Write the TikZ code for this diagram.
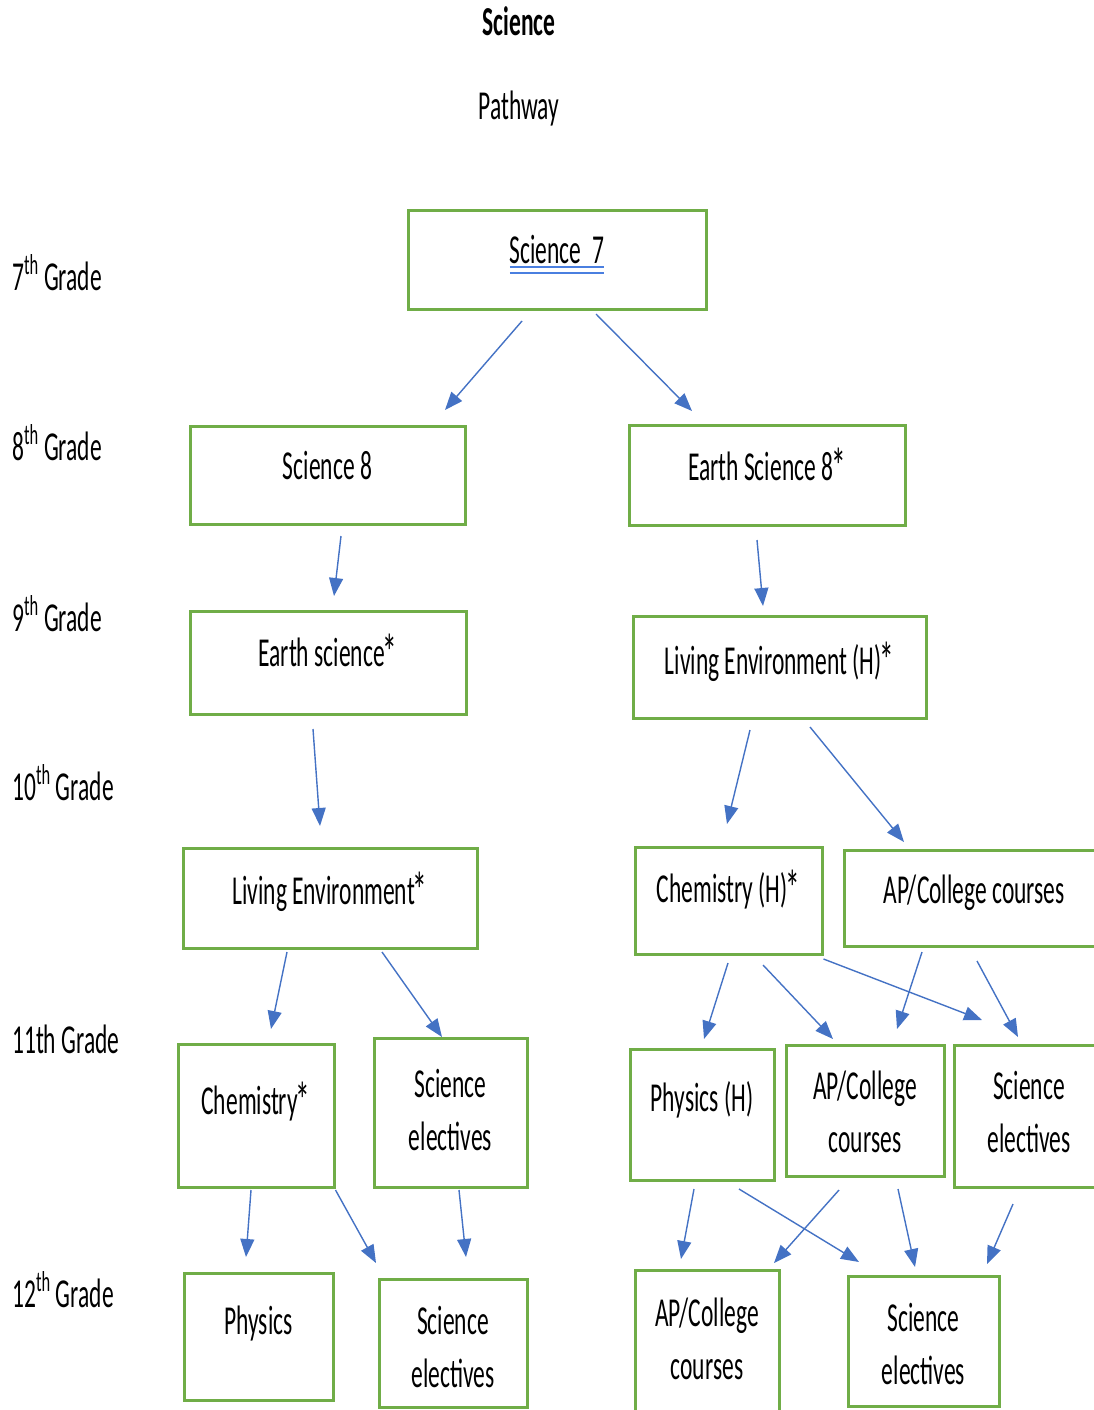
\documentclass[tikz,border=0pt]{standalone}
\usepackage{fontspec}
\setmainfont{Carlito}
\usepackage{graphicx}
\usetikzlibrary{calc,arrows.meta,positioning}
\definecolor{boxgreen}{HTML}{70AD47}
\definecolor{arrowblue}{HTML}{4472C4}
\definecolor{ulblue}{HTML}{4A7FE0}
\newcommand{\stretched}[1]{\scalebox{1}[1.75]{\begin{tabular}[t]{@{}c@{}}#1\end{tabular}}}
\newcommand{\req}{\kern-2pt\raisebox{-2.2pt}{\scalebox{1.25}{*}}}
\newsavebox{\ulbox}
\newcommand{\dblunder}[1]{\sbox{\ulbox}{#1}\rlap{\color{ulblue}\rule[-2.4pt]{\wd\ulbox}{1pt}}\rlap{\color{ulblue}\rule[-5.9pt]{\wd\ulbox}{1pt}}\usebox{\ulbox}}
\tikzset{
     course/.style = {draw=boxgreen, line width=3pt, inner sep=0pt, anchor=north,
                      font=\fontsize{23.5}{30.5}\selectfont},
     grade/.style = {anchor=base west, inner sep=0pt, font=\fontsize{23.5}{30.5}\selectfont},
     heading/.style = {anchor=base, inner sep=0pt, font=\fontsize{23.5}{30.5}\selectfont},
     pathedge/.style = {arrowblue, line width=1.4pt, -{Triangle[length=18pt,width=14pt]}},
    }

\begin{document}
\begin{tikzpicture}[x=1pt,y=-1pt]
        \useasboundingbox (0,0) rectangle (1094,1410);
        % title
        \node [heading] (title) at (519,36)  {\stretched{\textbf{Science}}};
        \node [heading] (sub)   at (519,120) {\stretched{Pathway}};
        % grades
        \node [grade] (g7)  at (12,290)  {\stretched{7\textsuperscript{th} Grade}};
        \node [grade] (g8)  at (12,460)  {\stretched{8\textsuperscript{th} Grade}};
        \node [grade] (g9)  at (12,631)  {\stretched{9\textsuperscript{th} Grade}};
        \node [grade] (g10) at (12,800)  {\stretched{10\textsuperscript{th} Grade}};
        \node [grade] (g11) at (12,1053) {\stretched{11th Grade}};
        \node [grade] (g12) at (12,1307) {\stretched{12\textsuperscript{th} Grade}};
        % courses
        \node [course, minimum width=298pt, text height=53pt, text depth=46pt] (sci7)  at (557,209)   {\stretched{\dblunder{Science\ \ 7}}};
        \node [course, minimum width=275pt, text height=53pt, text depth=45pt] (sci8)  at (327.5,425) {\stretched{Science 8}};
        \node [course, minimum width=276pt, text height=55pt, text depth=45pt] (esci8) at (767,424)   {\stretched{Earth Science 8\req}};
        \node [course, minimum width=276pt, text height=55pt, text depth=48pt] (esci)  at (328,610)   {\stretched{Earth science\req}};
        \node [course, minimum width=293pt, text height=58pt, text depth=44pt] (leh)   at (779.5,615) {\stretched{Living Environment (H)\req}};
        \node [course, minimum width=294pt, text height=56pt, text depth=44pt] (le)    at (330,847)   {\stretched{Living Environment\req}};
        \node [course, minimum width=187pt, text height=55pt, text depth=52pt] (chemh) at (728.5,846) {\stretched{Chemistry (H)\req}};
        \node [course, minimum width=260pt, text height=53pt, text depth=43pt] (aptop) at (974,849)   {\stretched{AP/College courses}};
        \node [course, minimum width=156pt, text height=70pt, text depth=73pt] (chem)  at (256,1043)  {\stretched{Chemistry\req}};
        \node [course, minimum width=153pt, text height=59pt, text depth=90pt] (sel)   at (450.5,1037) {\stretched{Science\\electives}};
        \node [course, minimum width=144pt, text height=62pt, text depth=69pt] (physh) at (702,1048)  {\stretched{Physics (H)}};
        \node [course, minimum width=158pt, text height=54pt, text depth=77pt] (ap11)  at (865,1044)  {\stretched{AP/College\\courses}};
        \node [course, minimum width=150pt, text height=54pt, text depth=88pt] (se11)  at (1029,1044) {\stretched{Science\\electives}};
        \node [course, minimum width=149pt, text height=61pt, text depth=66pt] (phys)  at (258.5,1272) {\stretched{Physics}};
        \node [course, minimum width=148pt, text height=55pt, text depth=73pt] (sel12) at (453,1278)  {\stretched{Science\\electives}};
        \node [course, minimum width=144pt, text height=56pt, text depth=104pt] (ap12) at (707,1269)  {\stretched{AP/College\\courses}};
        \node [course, minimum width=151pt, text height=55pt, text depth=75pt] (se12)  at (923.5,1275) {\stretched{Science\\electives}};
        % pathways
        \path [pathedge]
        ($(sci7.south)+(-35,10)$)       edge ($(sci8.north)+(117.5,-15)$)
        ($(sci7.south)+(39,3)$)         edge ($(esci8.north)+(-75,-13)$)
        ($(sci8.south)+(13.5,10)$)      edge ($(esci.north)+(6,-14)$)
        ($(esci8.south)+(-10,13)$)      edge ($(leh.north)+(-16.5,-9)$)
        ($(esci.south)+(-15,13)$)       edge ($(le.north)+(-10,-21)$)
        ($(leh.south)+(-29.5,10)$)      edge ($(chemh.north)+(-1.5,-22)$)
        ($(leh.south)+(30.5,7)$)        edge ($(aptop.north)+(-70,-7)$)
        ($(le.south)+(-43,2)$)          edge ($(chem.north)+(15,-14)$)
        ($(le.south)+(52,2)$)           edge ($(sel.north)+(-8.5,0)$)
        ($(chemh.south)+(-0.5,7)$)      edge ($(physh.north)+(2,-9)$)
        ($(chemh.south)+(34.5,9)$)      edge ($(ap11.north)+(-32,-5)$)
        ($(chemh.south east)+(0,3)$)    edge ($(se11.north)+(-47,-24)$)
        ($(aptop.south)+(-52,4)$)       edge ($(ap11.north)+(32,-15)$)
        ($(aptop.south)+(3,13)$)        edge ($(se11.north)+(-11,-7)$)
        ($(chem.south)+(-5,1)$)         edge ($(phys.north)+(-12.5,-15)$)
        ($(chem.south east)+(0,1)$)     edge ($(sel12.north)+(-77,-15)$)
        ($(sel.south)+(8.5,1)$)         edge ($(sel12.north)+(13,-21)$)
        ($(physh.south)+(-8,7)$)        edge ($(ap12.north)+(-26,-10)$)
        ($(physh.south)+(37,7)$)        edge ($(se12.north)+(-64.5,-13)$)
        ($(ap11.south)+(-26,12)$)       edge ($(ap12.north)+(67,-6)$)
        ($(ap11.south)+(33,11)$)        edge ($(se12.north)+(-8.5,-8)$)
        ($(se11.south)+(-16,15)$)       edge ($(se12.north)+(63.5,-11)$);
\end{tikzpicture}
\end{document}
